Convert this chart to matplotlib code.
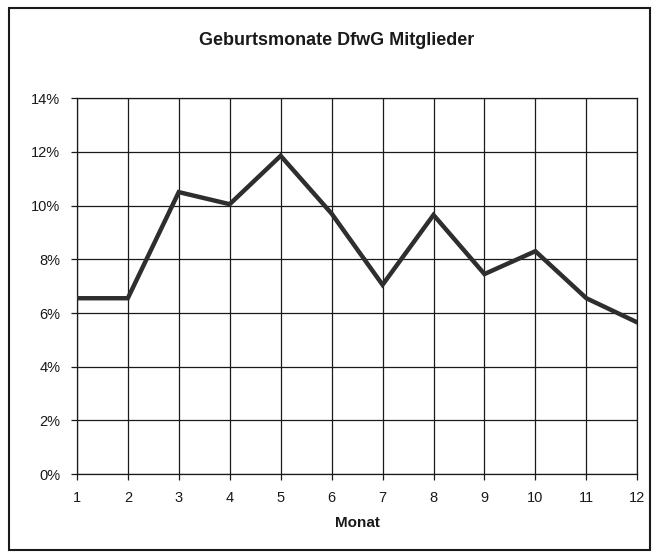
import matplotlib.pyplot as plt
from matplotlib.patches import Rectangle
from matplotlib.ticker import FuncFormatter

plt.rcParams['font.family'] = ['Liberation Sans', 'DejaVu Sans']

# Data (share of members born in each month, in %)
months = [1, 2, 3, 4, 5, 6, 7, 8, 9, 10, 11, 12]
share = [6.55, 6.55, 10.5, 10.05, 11.85, 9.7, 7.05, 9.65, 7.45, 8.3, 6.55, 5.65]
y_ticks = [0, 2, 4, 6, 8, 10, 12, 14]

fig = plt.figure(figsize=(6.57, 5.54), dpi=100)
ax = fig.add_axes([0.117, 0.144, 0.853, 0.679])

ax.plot(months, share, color='#2e2e2e', linewidth=3.2, solid_joinstyle='miter', zorder=3)

ax.set_xlim(1, 12)
ax.set_ylim(0, 14)
ax.set_xticks(months)
ax.set_yticks(y_ticks)
ax.yaxis.set_major_formatter(FuncFormatter(lambda v, p: f"{v:.0f}%"))
ax.grid(True, color='#1a1a1a', linewidth=0.9)
ax.set_axisbelow(True)
for s in ax.spines.values():
    s.set_color('#1a1a1a')
    s.set_linewidth(0.9)
ax.tick_params(axis='both', length=4, width=0.9, color='#1a1a1a',
               labelsize=10.5, labelcolor='#1a1a1a')
ax.tick_params(axis='y', pad=8)
ax.tick_params(axis='x', pad=8)

ax.set_xlabel('Monat', fontsize=11, fontweight='bold', color='#1a1a1a', labelpad=8)
fig.text(0.512, 0.926, 'Geburtsmonate DfwG Mitglieder', ha='center', va='center',
         fontsize=13, fontweight='bold', color='#1a1a1a')

# outer chart frame
fig.patches.append(Rectangle((0.014, 0.008), 0.976, 0.978, transform=fig.transFigure,
                             fill=False, edgecolor='#1a1a1a', linewidth=1.5))

fig.savefig('out.png', dpi=100)
